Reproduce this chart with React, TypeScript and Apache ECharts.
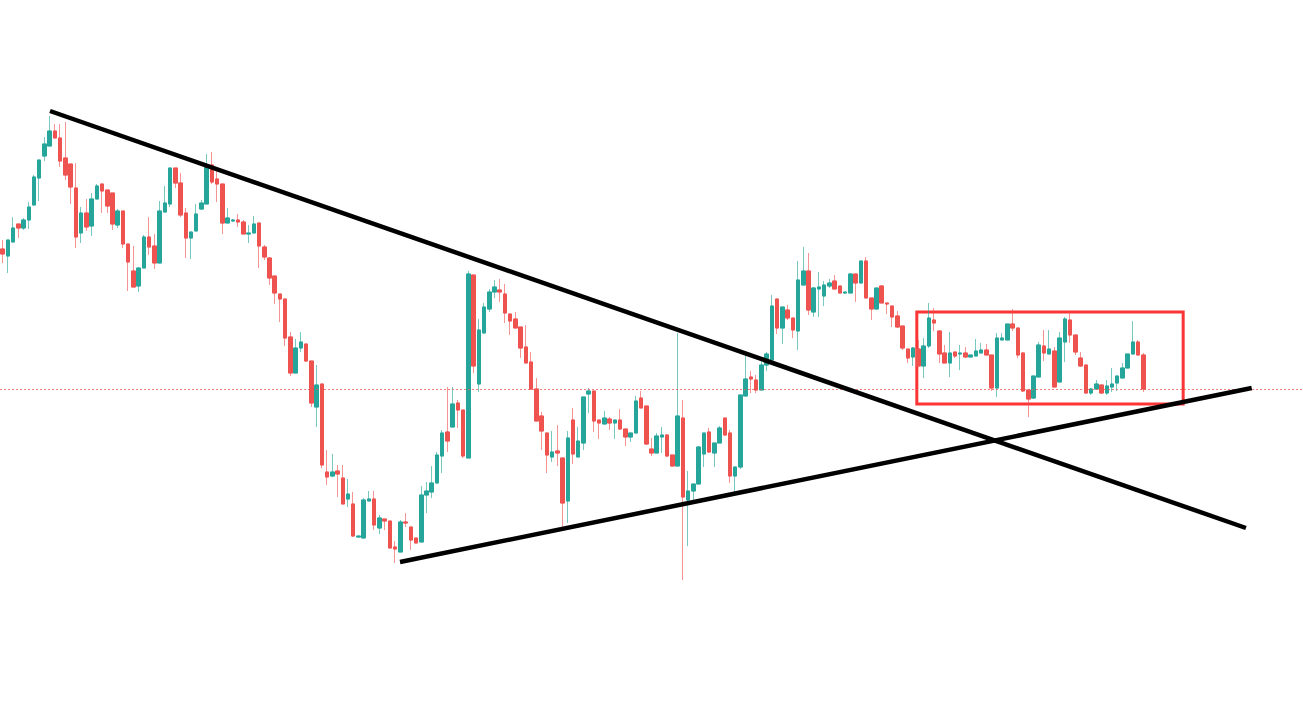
import React, { useEffect, useRef } from "react";
import * as echarts from "echarts";

// Daily candles: [open, close, low, high]
const candles: number[][] = [
  [551, 546, 537, 560], [544, 560, 527, 560], [558, 572, 558, 583], [576, 572, 562, 576],
  [572, 580, 570, 582], [580, 593, 571, 598], [595, 623, 595, 625], [622, 640, 599, 640],
  [644, 656, 639, 663], [654, 669, 654, 684], [669, 662, 662, 676], [662, 639, 633, 676],
  [642, 625, 620, 678], [636, 613, 596, 636], [612, 563, 552, 637], [567, 587, 557, 593],
  [587, 573, 569, 601], [574, 601, 564, 607], [601, 614, 601, 616], [616, 609, 587, 616],
  [610, 594, 587, 610], [607, 576, 570, 607], [575, 589, 572, 591], [589, 556, 552, 589],
  [556, 538, 509, 556], [529, 513, 513, 554], [514, 532, 508, 533], [532, 563, 532, 565],
  [563, 553, 545, 583], [554, 537, 531, 566], [537, 589, 537, 599], [588, 597, 588, 614],
  [596, 632, 593, 632], [632, 617, 612, 632], [617, 585, 583, 627], [587, 562, 542, 592],
  [562, 568, 541, 568], [569, 586, 569, 596], [591, 597, 590, 600], [596, 635, 596, 646],
  [635, 618, 616, 648], [621, 616, 598, 630], [616, 577, 566, 616], [577, 582, 577, 592],
  [579, 580, 578, 581], [580, 578, 573, 586], [578, 566, 566, 580], [566, 567, 557, 575],
  [567, 576, 567, 584], [577, 554, 532, 577], [553, 543, 540, 555], [542, 522, 515, 543],
  [524, 507, 496, 524], [506, 501, 478, 506], [501, 462, 454, 501], [463, 427, 424, 468],
  [427, 452, 427, 461], [452, 458, 448, 468], [456, 439, 438, 456], [439, 397, 393, 439],
  [393, 415, 373, 435], [416, 335, 332, 416], [328, 323, 315, 350], [324, 328, 323, 346],
  [329, 326, 303, 335], [322, 296, 296, 335], [301, 306, 293, 321], [296, 264, 263, 308],
  [263, 264, 262, 264], [262, 300, 262, 302], [299, 301, 299, 309], [301, 275, 270, 309],
  [272, 282, 266, 285], [281, 279, 270, 281], [279, 252, 252, 279], [253, 251, 237, 259],
  [248, 278, 248, 280], [278, 277, 273, 287], [273, 260, 250, 273], [262, 257, 257, 262],
  [258, 305, 258, 314], [305, 309, 287, 318], [308, 317, 302, 334], [317, 345, 317, 348],
  [344, 367, 327, 370], [368, 359, 348, 413], [373, 396, 373, 413], [397, 390, 372, 400],
  [390, 344, 342, 390], [342, 526, 342, 529], [525, 434, 427, 525], [416, 470, 408, 481],
  [467, 493, 467, 497], [491, 508, 488, 511], [508, 513, 502, 520], [510, 508, 498, 521],
  [506, 487, 477, 516], [486, 479, 465, 486], [481, 472, 472, 488], [473, 452, 442, 473],
  [453, 437, 437, 475], [438, 411, 410, 448], [411, 379, 379, 422], [384, 369, 350, 388],
  [367, 345, 327, 367], [343, 348, 338, 369], [349, 347, 334, 375], [342, 297, 272, 342],
  [299, 362, 277, 369], [380, 346, 336, 392], [343, 359, 343, 373], [357, 403, 350, 403],
  [406, 409, 387, 412], [409, 379, 368, 409], [380, 377, 361, 380], [376, 382, 376, 389],
  [381, 377, 370, 383], [377, 380, 361, 380], [380, 371, 370, 391], [371, 363, 354, 371],
  [363, 367, 358, 367], [367, 399, 367, 404], [402, 392, 392, 409], [394, 356, 355, 394],
  [351, 347, 344, 362], [347, 364, 347, 367], [363, 365, 347, 373], [365, 344, 343, 366],
  [345, 334, 334, 345], [334, 384, 334, 467], [382, 303, 220, 400], [300, 309, 254, 329],
  [309, 316, 296, 316], [316, 353, 316, 354], [346, 367, 333, 367], [368, 348, 347, 372],
  [347, 357, 333, 357], [357, 372, 357, 374], [382, 365, 364, 382], [367, 324, 317, 370],
  [324, 333, 304, 333], [333, 405, 331, 405], [404, 421, 404, 449], [423, 421, 407, 429],
  [420, 410, 407, 425], [410, 435, 410, 440], [435, 446, 429, 448], [440, 494, 440, 505],
  [501, 472, 466, 501], [472, 493, 456, 493], [490, 482, 480, 495], [482, 470, 462, 482],
  [469, 520, 450, 539], [515, 529, 515, 553], [529, 490, 485, 547], [488, 512, 483, 513],
  [511, 513, 483, 528], [504, 515, 494, 519], [514, 517, 512, 521], [519, 511, 511, 525],
  [514, 507, 507, 514], [507, 508, 506, 508], [507, 526, 507, 527], [526, 517, 498, 526],
  [517, 539, 517, 539], [539, 502, 502, 543], [502, 491, 480, 502], [491, 512, 491, 512],
  [514, 497, 497, 515], [497, 496, 486, 497], [494, 483, 473, 494], [484, 473, 472, 489],
  [474, 452, 450, 474], [451, 442, 437, 451], [443, 452, 434, 453], [451, 434, 434, 460],
  [434, 454, 422, 462], [454, 482, 452, 497], [480, 477, 469, 492], [469, 446, 437, 470],
  [447, 437, 437, 455], [437, 447, 423, 468], [448, 444, 442, 448], [446, 447, 430, 455],
  [447, 443, 442, 453], [443, 445, 443, 445], [444, 449, 444, 461], [447, 450, 447, 457],
  [450, 445, 445, 456], [445, 412, 409, 445], [412, 462, 403, 467], [460, 462, 460, 467],
  [460, 476, 460, 476], [476, 472, 469, 491], [472, 445, 442, 472], [447, 409, 408, 448],
  [410, 401, 383, 410], [402, 424, 401, 424], [423, 455, 423, 458], [454, 447, 439, 470],
  [446, 451, 446, 470], [449, 413, 413, 453], [418, 462, 418, 468], [458, 481, 438, 483],
  [480, 465, 457, 488], [465, 448, 445, 465], [442, 434, 433, 448], [435, 407, 406, 435],
  [407, 411, 405, 412], [411, 416, 411, 420], [415, 407, 406, 415], [407, 414, 405, 420],
  [413, 416, 408, 432], [417, 424, 409, 424], [422, 432, 422, 437], [432, 446, 432, 446],
  [446, 458, 446, 479], [458, 445, 445, 460], [445, 411, 408, 447],
];

// Candle slots across the chart, including the empty space on the right
const SLOT_COUNT = 249;
const slots = Array.from({ length: SLOT_COUNT }, (_, i) => `D${i + 1}`);

// Trend lines: [slot, price] endpoints
const resistanceLine = [[9.06, 689], [237.6, 272]];
const supportLine = [[75.94, 238], [238.7, 412]];

// Consolidation box: [slotFrom, priceTop] -> [slotTo, priceBottom]
const rangeBox = [[174.7, 488], [225.6, 396]];

const priceMin = 87;
const priceMax = 800;

const UP = "#26a69a";
const DOWN = "#ef5350";
const UP_WICK = "rgba(38,166,154,0.62)";
const DOWN_WICK = "rgba(239,83,80,0.62)";

export default function App() {
  const ref = useRef<HTMLDivElement>(null);

  useEffect(() => {
    if (!ref.current) return;
    const chart = echarts.init(ref.current, undefined, { renderer: "svg" });
    const lastClose = candles[candles.length - 1][1];
    const bodies = candles.map(([o, c]) => [o, c, Math.min(o, c), Math.max(o, c)]);

    chart.setOption({
      animation: false,
      backgroundColor: "#ffffff",
      grid: { left: 0, right: 0, top: 0, bottom: 0 },
      xAxis: [
        { type: "category", data: slots, boundaryGap: true, show: false },
        { type: "value", min: -0.5, max: SLOT_COUNT - 0.5, show: false },
      ],
      yAxis: {
        type: "value",
        min: priceMin,
        max: priceMax,
        show: false,
        splitLine: { show: false },
      },
      series: [
        {
          // full range candles: light wicks
          name: "wicks",
          type: "candlestick",
          data: candles,
          barWidth: 4,
          silent: true,
          itemStyle: {
            color: UP_WICK,
            color0: DOWN_WICK,
            borderColor: UP_WICK,
            borderColor0: DOWN_WICK,
            borderWidth: 1,
          },
        },
        {
          // solid open/close bodies
          name: "bodies",
          type: "candlestick",
          data: bodies,
          barWidth: 4,
          silent: true,
          itemStyle: {
            color: UP,
            color0: DOWN,
            borderColor: UP,
            borderColor0: DOWN,
            borderWidth: 1,
          },
          markLine: {
            silent: true,
            symbol: ["none", "none"],
            label: { show: false },
            lineStyle: { color: "rgba(239,83,80,0.75)", type: [2, 2], width: 1 },
            data: [{ yAxis: lastClose }],
          },
        },
        {
          name: "resistance",
          type: "line",
          xAxisIndex: 1,
          data: resistanceLine,
          symbol: "none",
          silent: true,
          z: 5,
          lineStyle: { color: "#000000", width: 4.5, cap: "butt" },
        },
        {
          name: "support",
          type: "line",
          xAxisIndex: 1,
          data: supportLine,
          symbol: "none",
          silent: true,
          z: 5,
          lineStyle: { color: "#000000", width: 4.5, cap: "butt" },
          markArea: {
            silent: true,
            itemStyle: {
              color: "rgba(0,0,0,0)",
              borderColor: "#fb3535",
              borderWidth: 3,
            },
            data: [[{ coord: rangeBox[0] }, { coord: rangeBox[1] }]],
          },
        },
      ],
    });

    return () => chart.dispose();
  }, []);

  return (
    <div
      ref={ref}
      style={{ position: "fixed", left: 0, top: 0, width: 1303, height: 713, background: "#fff" }}
    />
  );
}
